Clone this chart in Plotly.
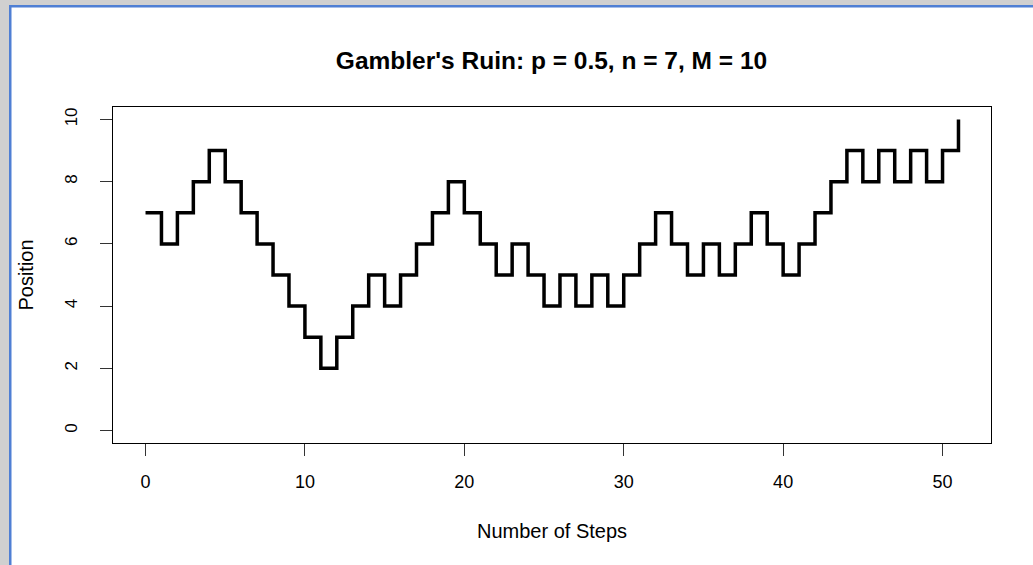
import plotly.graph_objects as go

steps = list(range(0, 52))
position = [7, 6, 7, 8, 9, 8, 7, 6, 5, 4, 3, 2, 3, 4, 5, 4, 5, 6, 7, 8,
            7, 6, 5, 6, 5, 4, 5, 4, 5, 4, 5, 6, 7, 6, 5, 6, 5, 6, 7, 6,
            5, 6, 7, 8, 9, 8, 9, 8, 9, 8, 9, 10]
x_ticks = [0, 10, 20, 30, 40, 50]
y_ticks = [0, 2, 4, 6, 8, 10]
title_text = "Gambler's Ruin: p = 0.5, n = 7, M = 10"

W, H = 1033, 565
L, R, T, B = 113, 991, 107, 443

fig = go.Figure()
fig.add_trace(go.Scatter(x=steps, y=position, mode="lines",
                         line=dict(shape="hv", color="black", width=3.5),
                         hoverinfo="skip", showlegend=False))

font_main = "Liberation Sans, Arial"

def px2paper_x(px):
    return (px - L) / (R - L)

def px2paper_y(py):
    return (B - py) / (B - T)

shapes = [
    dict(type="rect", xref="paper", yref="paper", x0=px2paper_x(0), x1=px2paper_x(W),
         y0=px2paper_y(0), y1=px2paper_y(5), fillcolor="#d0d0d0", line=dict(width=0), layer="below"),
    dict(type="rect", xref="paper", yref="paper", x0=px2paper_x(0), x1=px2paper_x(9),
         y0=px2paper_y(0), y1=px2paper_y(H), fillcolor="#d0d0d0", line=dict(width=0), layer="below"),
    dict(type="rect", xref="paper", yref="paper", x0=px2paper_x(9), x1=px2paper_x(W),
         y0=px2paper_y(5), y1=px2paper_y(7.5), fillcolor="#4f7fd4", line=dict(width=0), layer="below"),
    dict(type="rect", xref="paper", yref="paper", x0=px2paper_x(9), x1=px2paper_x(11.5),
         y0=px2paper_y(5), y1=px2paper_y(H), fillcolor="#4f7fd4", line=dict(width=0), layer="below"),
]

fig.update_layout(
    width=W, height=H,
    margin=dict(l=L, r=W - R, t=T, b=H - B, pad=0),
    paper_bgcolor="white", plot_bgcolor="white",
    font=dict(family=font_main, color="black", size=17),
    title=dict(text="<b>" + title_text + "</b>", x=(333 + 770) / 2 / W, xanchor="center",
               y=1 - 60 / H, yanchor="middle", yref="container",
               font=dict(size=24.5, family=font_main)),
    shapes=shapes,
    xaxis=dict(range=[-2.04, 53.04], tickvals=x_ticks, ticktext=[str(v) for v in x_ticks],
               ticks="outside", ticklen=12, tickwidth=1, tickcolor="#333",
               showline=True, linecolor="black", linewidth=1, mirror=True,
               showgrid=False, zeroline=False, ticklabelstandoff=10,
               tickfont=dict(size=18),
               title=dict(text="Number of Steps", standoff=33, font=dict(size=20))),
    yaxis=dict(range=[-0.4, 10.4], tickvals=y_ticks, ticktext=[str(v) for v in y_ticks],
               ticks="outside", ticklen=12, tickwidth=1, tickcolor="#333", tickangle=-90,
               showline=True, linecolor="black", linewidth=1, mirror=True,
               showgrid=False, zeroline=False, ticklabelstandoff=16,
               tickfont=dict(size=17),
               title=dict(text="Position", standoff=23, font=dict(size=20))),
)

fig.write_html("out.html", config={"displayModeBar": False},
               post_script="document.body.style.margin='0';")
